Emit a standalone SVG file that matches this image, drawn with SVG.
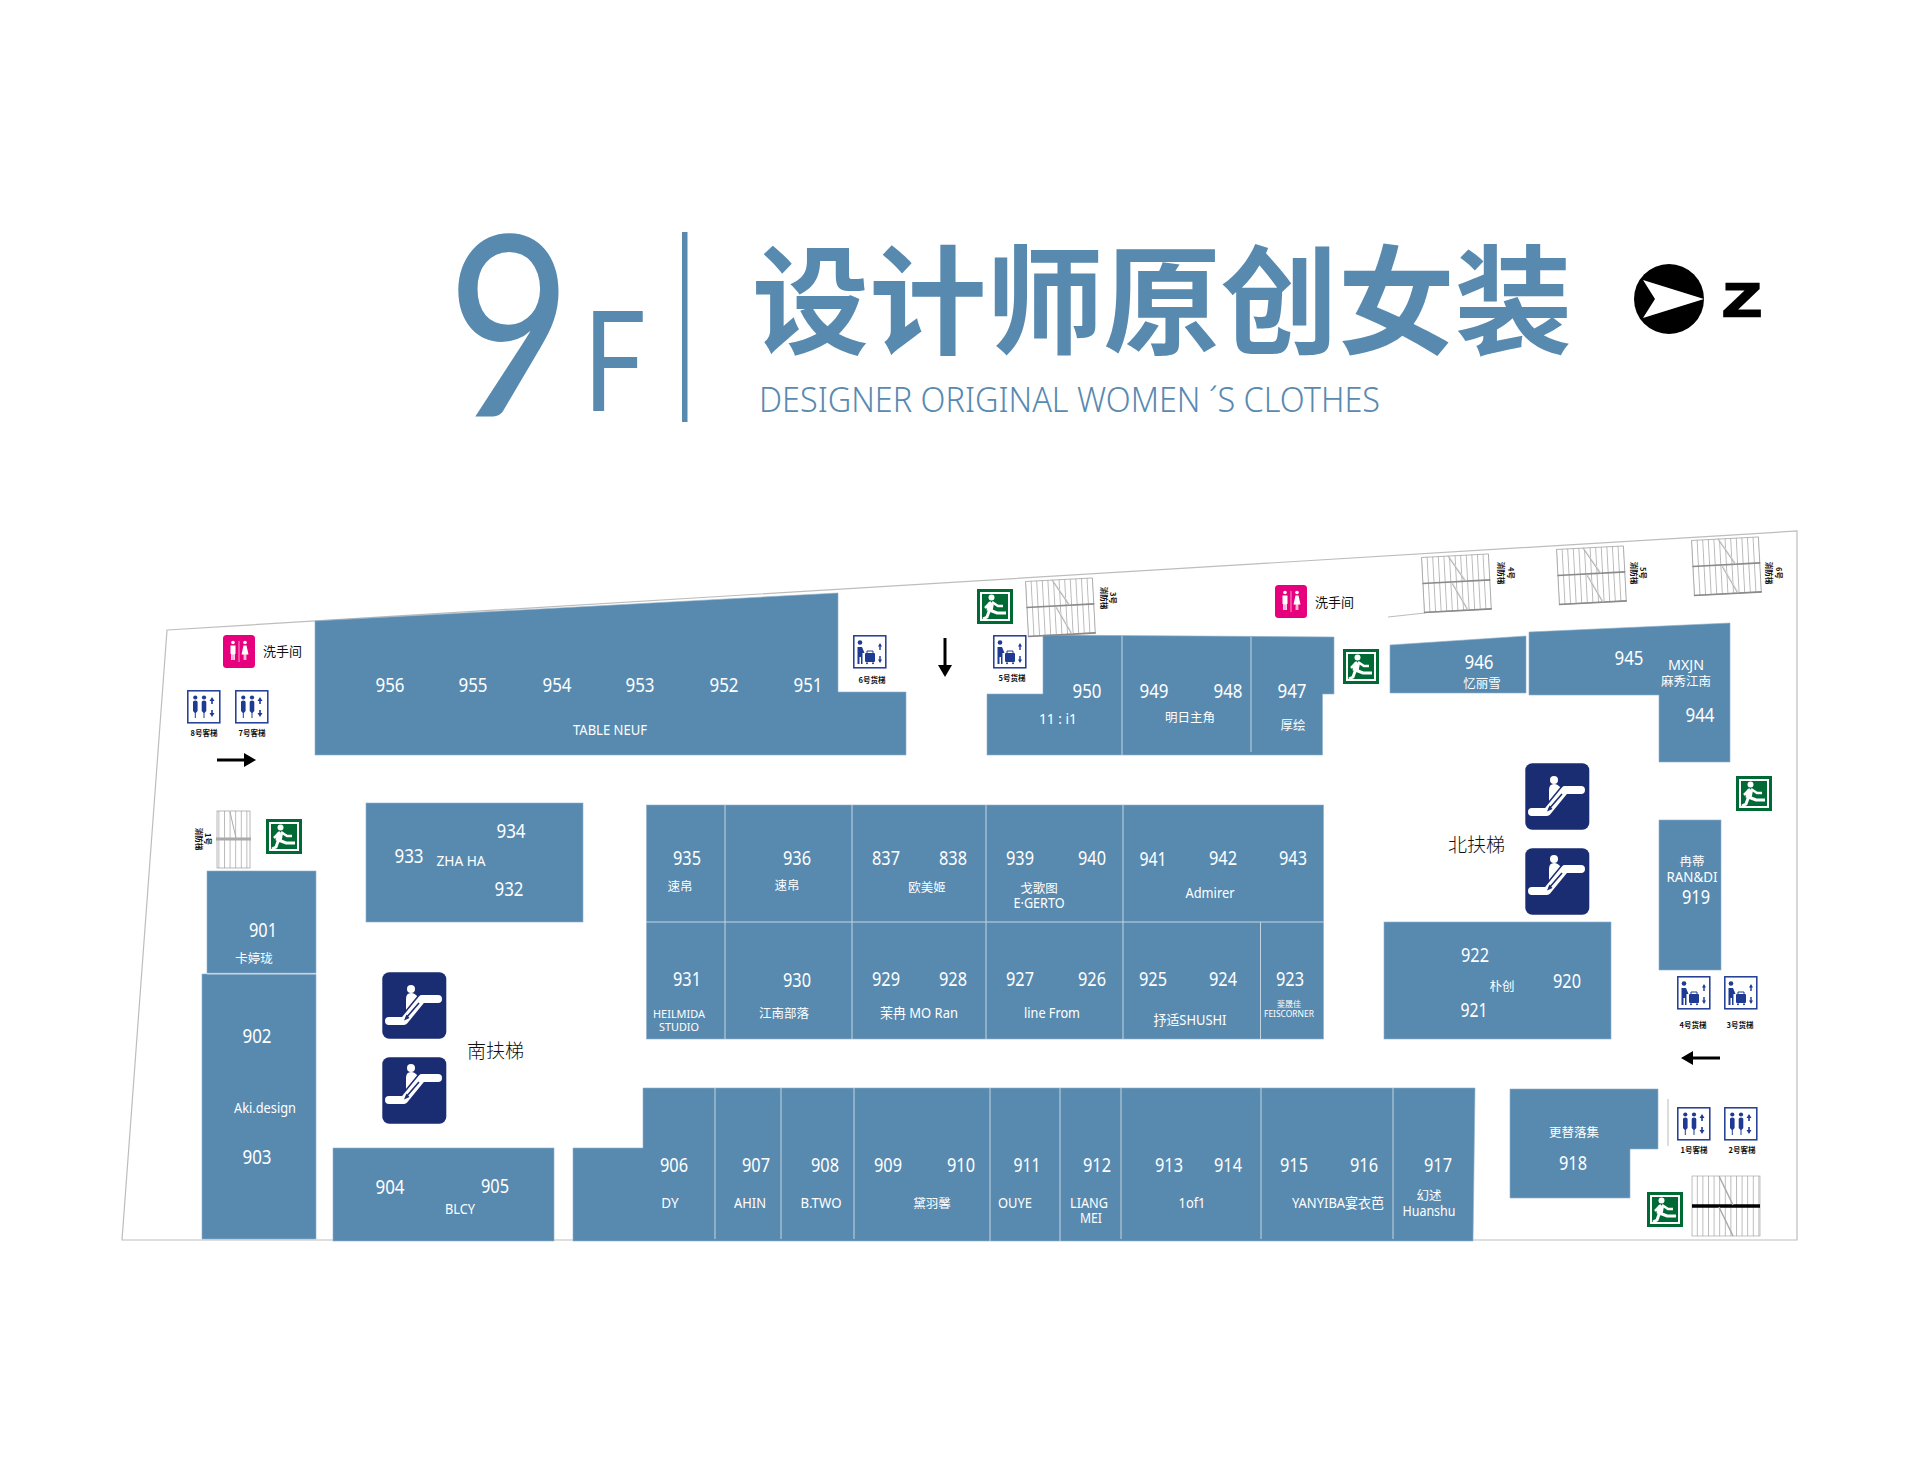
<svg xmlns="http://www.w3.org/2000/svg" width="1929" height="1475" viewBox="0 0 1929 1475">
<style>
text{font-family:"Noto Sans","Noto Sans CJK SC",sans-serif}
.b{fill:#588ab0;stroke:#8fb0c9;stroke-width:.6}
.d{stroke:#c3d4e1;stroke-width:1;fill:none}
.n{fill:#fff;font-size:20px;text-anchor:middle}
.l{fill:#fff;font-size:13.5px;text-anchor:middle}
.c{fill:#fff;font-family:"Noto Sans CJK SC",sans-serif;font-size:12.5px;text-anchor:middle}
.k{fill:#111;font-family:"Noto Sans CJK SC",sans-serif;font-size:7.5px;font-weight:700;text-anchor:middle}
.w{fill:#111;font-family:"Noto Sans CJK SC",sans-serif;font-size:13px}
.e{fill:#111;font-family:"Noto Sans CJK SC",sans-serif;font-size:19px;font-weight:300}
.h{fill:#588ab0}
</style>
<defs>
<pattern id="hatch" width="5.6" height="10" patternUnits="userSpaceOnUse"><path d="M.5 0V10" stroke="#9a9a9a" stroke-width=".7"/></pattern>
<symbol id="stair" width="68" height="58" viewBox="0 0 68 58" overflow="visible"><rect x=".5" y=".5" width="67" height="55" fill="url(#hatch)" stroke="#999" stroke-width=".7"/><path d="M0 26.5H68" stroke="#8a8a8a" stroke-width="1.6"/><path d="M0 55.5H68" stroke="#8a8a8a" stroke-width="1.6"/><path d="M27 0L43 26M30 28L44 55" stroke="#aaa" stroke-width="1.5" fill="none"/><path d="M27.500 0L43.500 26M30.500 28L44.500 55" stroke="#fff" stroke-width=".6" fill="none"/></symbol>
<symbol id="lift" width="34" height="34" viewBox="0 0 34 34"><rect x=".8" y=".8" width="32" height="32" fill="#fff" stroke="#1f3a93" stroke-width="1.5"/><g fill="#1f3a93"><circle cx="8.300" cy="7.500" r="2.100"/><circle cx="17" cy="7.500" r="2.100"/><path d="M6 12Q6 10.500 8.300 10.500T10.600 12V21L8.800 23V28H7.800V23L6 21Z"/><path d="M14.700 12Q14.700 10.500 17 10.500T19.300 12V21L17.500 23V28H16.500V23L14.700 21Z"/><path d="M25 7L27.500 11H25.800V14H24.200V11H22.500Z"/><path d="M25 27L27.500 23H25.800V20H24.200V23H22.500Z"/></g></symbol>
<symbol id="cargo" width="34" height="34" viewBox="0 0 34 34"><rect x=".8" y=".8" width="32" height="32" fill="#fff" stroke="#1f3a93" stroke-width="1.5"/><g fill="#1f3a93"><circle cx="7" cy="7.500" r="2.300"/><path d="M4.500 12H9L11.500 18H9.500V29H8V22H6.500V29H4.500Z"/><rect x="12" y="18" width="10" height="9" rx="1"/><path d="M14 18V16H20V18" fill="none" stroke="#1f3a93"/><circle cx="14" cy="28.300" r="1"/><circle cx="20" cy="28.300" r="1"/><path d="M27 8L29 11.500H27.700V15H26.300V11.500H25Z"/><path d="M27 28L29 24.500H27.700V21H26.300V24.500H25Z"/></g></symbol>
<symbol id="exit" width="36" height="35" viewBox="0 0 36 35"><rect width="36" height="35" fill="#006a35"/><rect x="4" y="4" width="28" height="27" fill="none" stroke="#fff" stroke-width="2"/><circle cx="14.500" cy="8.500" r="3" fill="#fff"/><path d="M14 14L12.500 22" stroke="#fff" stroke-width="6"/><path d="M14 13L8 19M15 13L21 17H26" fill="none" stroke="#fff" stroke-width="2.500"/><path d="M12.500 21L20 24H29M12.500 21L10 28L6 30" fill="none" stroke="#fff" stroke-width="3"/></symbol>
<g id="escm"><circle cx="29" cy="11" r="4" fill="#fff"/><path d="M24 33V21Q24 15 29 15Q33 15 35.500 19Z" fill="#fff"/><path d="M7 43H22L40 21H56" fill="none" stroke="#1b2d72" stroke-width="11" stroke-linecap="round" stroke-linejoin="round"/><path d="M7 43H22L40 21H56" fill="none" stroke="#fff" stroke-width="8" stroke-linecap="round" stroke-linejoin="round"/><path d="M24 40L37 25" stroke="#1b2d72" stroke-width="1.600"/><path d="M22 42.500L27.500 40L24.500 36.500Z" fill="#1b2d72"/></g>
<symbol id="esc" width="65" height="67" viewBox="0 0 65 67"><rect x=".3" y=".3" width="64" height="66.400" rx="7" fill="#1b2d72"/><use href="#escm"/></symbol>
<symbol id="esc2" width="65" height="67" viewBox="0 0 65 67"><rect x=".3" y=".3" width="64" height="66.400" rx="7" fill="#1b2d72"/><use href="#escm" y="6"/></symbol>
<symbol id="wc" width="32" height="33" viewBox="0 0 32 33"><rect width="32" height="33" rx="3.500" fill="#e6007e"/><path d="M16 6V27" stroke="#fff" stroke-width=".6"/><g fill="#fff"><circle cx="10" cy="7.500" r="1.800"/><path d="M7.500 10.500H12.500V19H11.800V25H10.300V19.500H9.700V25H8.200V19H7.500Z"/><circle cx="22" cy="7.500" r="1.800"/><path d="M20.500 10.500H23.500L25.500 19.500H23.300V25H22.300V19.500H21.700V25H20.700V19.500H18.500Z"/></g></symbol>
</defs>

<g id="title">
<text class="h" transform="translate(447 416) scale(.855 1)" style="font-family:Lato,sans-serif;font-size:252px;font-weight:400">9</text>
<text class="h" transform="translate(583 411) scale(.8 1)" style="font-family:Lato,sans-serif;font-size:140px;font-weight:400">F</text>
<rect class="h" x="682" y="232" width="5.500" height="190"/>
<text class="h" x="752" y="345" textLength="820" lengthAdjust="spacingAndGlyphs" style="font-family:'Noto Sans CJK SC',sans-serif;font-size:118px;font-weight:700">设计师原创女装</text>
<text class="h" x="759" y="412" textLength="621" lengthAdjust="spacingAndGlyphs" style="font-family:'Noto Sans',sans-serif;font-size:35px;font-weight:300">DESIGNER ORIGINAL WOMEN ´S CLOTHES</text>
</g>
<g id="compass">
<circle cx="1669" cy="299" r="35" fill="#000"/>
<path d="M1643 280L1704 299L1643 318L1655 299Z" fill="#fff"/>
<text x="1742" y="316" textLength="38" lengthAdjust="spacingAndGlyphs" text-anchor="middle" stroke="#000" stroke-width="2.500" style="font-family:'Liberation Sans',sans-serif;font-size:46px;font-weight:700">Z</text>
</g>

<g id="outline"><path d="M167 630L1797 531V1240H122Z" fill="#fff" stroke="#bdbdbd" stroke-width="1.200"/><path d="M1388 617L1425 613M1668 1099V1146" stroke="#aaa" stroke-width=".8" fill="none"/></g>

<g id="block-951-956" ><path class="b" d="M315 621L838 593V692H906V755H315Z"/>
<text class="n" x="390" y="692" textLength="29" lengthAdjust="spacingAndGlyphs">956</text><text class="n" x="473" y="692" textLength="29" lengthAdjust="spacingAndGlyphs">955</text><text class="n" x="557" y="692" textLength="29" lengthAdjust="spacingAndGlyphs">954</text><text class="n" x="640" y="692" textLength="29" lengthAdjust="spacingAndGlyphs">953</text><text class="n" x="724" y="692" textLength="29" lengthAdjust="spacingAndGlyphs">952</text><text class="n" x="808" y="692" textLength="29" lengthAdjust="spacingAndGlyphs">951</text>
<text class="l" x="610" y="735" textLength="74" lengthAdjust="spacingAndGlyphs">TABLE NEUF</text></g>

<g id="block-947-950"><path class="b" d="M987 694H1043V635L1334 637V694H1322.500V755H987Z"/><path class="d" d="M1122 636V755M1251 637V752"/>
<text class="n" x="1087" y="698" textLength="29" lengthAdjust="spacingAndGlyphs">950</text><text class="n" x="1154" y="698" textLength="29" lengthAdjust="spacingAndGlyphs">949</text><text class="n" x="1228" y="698" textLength="29" lengthAdjust="spacingAndGlyphs">948</text><text class="n" x="1292" y="698" textLength="29" lengthAdjust="spacingAndGlyphs">947</text>
<text class="l" x="1058" y="724" textLength="38" lengthAdjust="spacingAndGlyphs">11 : i1</text><text class="c" x="1190" y="722">明日主角</text><text class="c" x="1293" y="730">厚绘</text></g>

<g id="block-946"><path class="b" d="M1390 645L1526 636V693H1390Z"/><text class="n" x="1479" y="669" textLength="29" lengthAdjust="spacingAndGlyphs">946</text><text class="c" x="1482" y="688">忆丽雪</text></g>
<g id="block-944-945"><path class="b" d="M1529 632L1730 623V762H1659V695H1529Z"/><text class="n" x="1629" y="665" textLength="29" lengthAdjust="spacingAndGlyphs">945</text><text class="l" x="1686" y="670" textLength="36" lengthAdjust="spacingAndGlyphs">MXJN</text><text class="c" x="1686" y="686">麻秀江南</text><text class="n" x="1700" y="722" textLength="29" lengthAdjust="spacingAndGlyphs">944</text></g>

<g id="block-932-934"><rect class="b" x="366" y="803" width="217" height="119"/><text class="n" x="511" y="838" textLength="29" lengthAdjust="spacingAndGlyphs">934</text><text class="n" x="409" y="863" textLength="29" lengthAdjust="spacingAndGlyphs">933</text><text class="n" x="509" y="896" textLength="29" lengthAdjust="spacingAndGlyphs">932</text><text class="l" x="461" y="866" textLength="49" lengthAdjust="spacingAndGlyphs">ZHA HA</text></g>

<g id="block-901"><rect class="b" x="207" y="871" width="109" height="102"/><text class="n" x="263" y="937" textLength="28" lengthAdjust="spacingAndGlyphs">901</text><text class="c" x="254" y="963">卡婷珑</text></g>
<g id="block-902-903"><path class="b" d="M202 974H316V1239H202Z"/><path class="d" d="M207 974H316"/><text class="n" x="257" y="1043" textLength="29" lengthAdjust="spacingAndGlyphs">902</text><text class="l" x="265" y="1113" textLength="62" lengthAdjust="spacingAndGlyphs">Aki.design</text><text class="n" x="257" y="1164" textLength="29" lengthAdjust="spacingAndGlyphs">903</text></g>
<g id="block-904-905"><rect class="b" x="333" y="1148" width="221" height="93"/><text class="n" x="390" y="1194" textLength="29" lengthAdjust="spacingAndGlyphs">904</text><text class="n" x="495" y="1193" textLength="28" lengthAdjust="spacingAndGlyphs">905</text><text class="l" x="460" y="1214" textLength="30" lengthAdjust="spacingAndGlyphs">BLCY</text></g>

<g id="block-923-943"><rect class="b" x="646.500" y="805" width="677" height="234"/><path class="d" d="M646 922H1323.500M725 805V1039M852 805V1039M986 805V1039M1123 805V1039M1260.500 922V1039"/>
<text class="n" x="687" y="865" textLength="28" lengthAdjust="spacingAndGlyphs">935</text><text class="n" x="797" y="865" textLength="28" lengthAdjust="spacingAndGlyphs">936</text><text class="n" x="886" y="865" textLength="28" lengthAdjust="spacingAndGlyphs">837</text><text class="n" x="953" y="865" textLength="28" lengthAdjust="spacingAndGlyphs">838</text><text class="n" x="1020" y="865" textLength="28" lengthAdjust="spacingAndGlyphs">939</text><text class="n" x="1092" y="865" textLength="28" lengthAdjust="spacingAndGlyphs">940</text><text class="n" x="1153" y="866" textLength="27" lengthAdjust="spacingAndGlyphs">941</text><text class="n" x="1223" y="865" textLength="28" lengthAdjust="spacingAndGlyphs">942</text><text class="n" x="1293" y="865" textLength="28" lengthAdjust="spacingAndGlyphs">943</text>
<text class="c" x="680" y="891">速帛</text><text class="c" x="787" y="890">速帛</text><text class="c" x="927" y="892">欧美姬</text><text class="c" x="1039" y="893">戈歌图</text><text class="l" x="1039" y="908" textLength="51" lengthAdjust="spacingAndGlyphs">E·GERTO</text><text class="l" x="1210" y="898" textLength="49" lengthAdjust="spacingAndGlyphs">Admirer</text>
<text class="n" x="687" y="986" textLength="28" lengthAdjust="spacingAndGlyphs">931</text><text class="n" x="797" y="987" textLength="28" lengthAdjust="spacingAndGlyphs">930</text><text class="n" x="886" y="986" textLength="28" lengthAdjust="spacingAndGlyphs">929</text><text class="n" x="953" y="986" textLength="28" lengthAdjust="spacingAndGlyphs">928</text><text class="n" x="1020" y="986" textLength="28" lengthAdjust="spacingAndGlyphs">927</text><text class="n" x="1092" y="986" textLength="28" lengthAdjust="spacingAndGlyphs">926</text><text class="n" x="1153" y="986" textLength="28" lengthAdjust="spacingAndGlyphs">925</text><text class="n" x="1223" y="986" textLength="28" lengthAdjust="spacingAndGlyphs">924</text><text class="n" x="1290" y="986" textLength="28" lengthAdjust="spacingAndGlyphs">923</text>
<text class="l" x="679" y="1018" style="font-size:11px" textLength="52" lengthAdjust="spacingAndGlyphs">HEILMIDA</text><text class="l" x="679" y="1031" style="font-size:11px" textLength="40" lengthAdjust="spacingAndGlyphs">STUDIO</text><text class="c" x="784" y="1018">江南部落</text><text class="l" x="919" y="1018" textLength="78" lengthAdjust="spacingAndGlyphs">茉冉 MO Ran</text><text class="l" x="1052" y="1018" textLength="56" lengthAdjust="spacingAndGlyphs">line From</text><text class="l" x="1190" y="1025" textLength="73" lengthAdjust="spacingAndGlyphs">抒适SHUSHI</text><text class="c" x="1289" y="1007" style="font-size:8px">斐晟佳</text><text class="l" x="1289" y="1017" style="font-size:8px" textLength="50" lengthAdjust="spacingAndGlyphs">FEISCORNER</text></g>

<g id="block-920-922"><rect class="b" x="1384" y="922" width="227" height="117"/><text class="n" x="1475" y="962" textLength="28" lengthAdjust="spacingAndGlyphs">922</text><text class="n" x="1474" y="1017" textLength="27" lengthAdjust="spacingAndGlyphs">921</text><text class="n" x="1567" y="988" textLength="28" lengthAdjust="spacingAndGlyphs">920</text><text class="c" x="1502" y="991">朴创</text></g>
<g id="block-919"><rect class="b" x="1659" y="820" width="62" height="150"/><text class="c" x="1692" y="866">冉蒂</text><text class="l" x="1692" y="882" textLength="51" lengthAdjust="spacingAndGlyphs">RAN&amp;DI</text><text class="n" x="1696" y="904" textLength="28" lengthAdjust="spacingAndGlyphs">919</text></g>
<g id="block-918"><path class="b" d="M1510 1089H1658V1149H1630V1198H1510Z"/><text class="c" x="1574" y="1137">更替落集</text><text class="n" x="1573" y="1170" textLength="28" lengthAdjust="spacingAndGlyphs">918</text></g>

<g id="block-906-917"><path class="b" d="M573 1148H643V1088H1475L1473 1241H573Z"/><path class="d" d="M715 1088V1239M781 1088V1239M854 1088V1239M990 1088V1241M1060 1088V1241M1121 1088V1239M1261 1088V1239M1393 1088V1239"/>
<text class="n" x="674" y="1172" textLength="28" lengthAdjust="spacingAndGlyphs">906</text><text class="n" x="756" y="1172" textLength="28" lengthAdjust="spacingAndGlyphs">907</text><text class="n" x="825" y="1172" textLength="28" lengthAdjust="spacingAndGlyphs">908</text><text class="n" x="888" y="1172" textLength="28" lengthAdjust="spacingAndGlyphs">909</text><text class="n" x="961" y="1172" textLength="28" lengthAdjust="spacingAndGlyphs">910</text><text class="n" x="1027" y="1172" textLength="27" lengthAdjust="spacingAndGlyphs">911</text><text class="n" x="1097" y="1172" textLength="28" lengthAdjust="spacingAndGlyphs">912</text><text class="n" x="1169" y="1172" textLength="28" lengthAdjust="spacingAndGlyphs">913</text><text class="n" x="1228" y="1172" textLength="28" lengthAdjust="spacingAndGlyphs">914</text><text class="n" x="1294" y="1172" textLength="28" lengthAdjust="spacingAndGlyphs">915</text><text class="n" x="1364" y="1172" textLength="28" lengthAdjust="spacingAndGlyphs">916</text><text class="n" x="1438" y="1172" textLength="28" lengthAdjust="spacingAndGlyphs">917</text>
<text class="l" x="670" y="1208">DY</text><text class="l" x="750" y="1208" textLength="32" lengthAdjust="spacingAndGlyphs">AHIN</text><text class="l" x="821" y="1208" textLength="41" lengthAdjust="spacingAndGlyphs">B.TWO</text><text class="c" x="932" y="1208">黛羽馨</text><text class="l" x="1015" y="1208" textLength="34" lengthAdjust="spacingAndGlyphs">OUYE</text><text class="l" x="1089" y="1208" textLength="38" lengthAdjust="spacingAndGlyphs">LIANG</text><text class="l" x="1091" y="1223" textLength="22" lengthAdjust="spacingAndGlyphs">MEI</text><text class="l" x="1192" y="1208" textLength="27" lengthAdjust="spacingAndGlyphs">1of1</text><text class="l" x="1338" y="1208" textLength="92" lengthAdjust="spacingAndGlyphs">YANYIBA宴衣芭</text><text class="c" x="1429" y="1200">幻述</text><text class="l" x="1429" y="1216" textLength="53" lengthAdjust="spacingAndGlyphs">Huanshu</text></g>

<g id="escalator-south"><use href="#esc2" x="382" y="972"/><use href="#esc" x="382" y="1057"/><text class="e" x="467" y="1058">南扶梯</text></g>
<g id="escalator-north"><use href="#esc2" x="1525" y="763"/><use href="#esc" x="1525" y="848"/><text class="e" x="1448" y="852">北扶梯</text></g>

<g id="wc-1"><use href="#wc" x="223" y="635"/><text class="w" x="263" y="656">洗手间</text></g>
<g id="wc-2"><use href="#wc" x="1275" y="585"/><text class="w" x="1315" y="607">洗手间</text></g>

<g id="lift-8"><use href="#lift" x="187" y="690"/><text class="k" x="204" y="736">8号客梯</text></g>
<g id="lift-7"><use href="#lift" x="235" y="690"/><text class="k" x="252" y="736">7号客梯</text></g>
<g id="lift-1"><use href="#lift" x="1677" y="1107"/><text class="k" x="1694" y="1153">1号客梯</text></g>
<g id="lift-2"><use href="#lift" x="1724" y="1107"/><text class="k" x="1742" y="1153">2号客梯</text></g>
<g id="cargo-6"><use href="#cargo" x="853" y="635"/><text class="k" x="872" y="683">6号货梯</text></g>
<g id="cargo-5"><use href="#cargo" x="993" y="635"/><text class="k" x="1012" y="681">5号货梯</text></g>
<g id="cargo-4"><use href="#cargo" x="1677" y="976"/><text class="k" x="1693" y="1028">4号货梯</text></g>
<g id="cargo-3"><use href="#cargo" x="1724" y="976"/><text class="k" x="1740" y="1028">3号货梯</text></g>

<g id="exit-1"><use href="#exit" x="266" y="819"/></g>
<g id="exit-2"><use href="#exit" x="977" y="589"/></g>
<g id="exit-3"><use href="#exit" x="1343" y="649"/></g>
<g id="exit-4"><use href="#exit" x="1736" y="776"/></g>
<g id="exit-5"><use href="#exit" x="1647" y="1192"/></g>

<g id="stair-1"><rect x="217" y="811" width="33" height="57" fill="url(#hatch)" stroke="#999" stroke-width=".7"/><path d="M216 839H251" stroke="#aaa" stroke-width="3"/><path d="M230 812L236 838" stroke="#aaa" stroke-width="1"/><text class="k" transform="translate(207 839) rotate(90)" dy="2.500">1号</text><text class="k" transform="translate(198 839) rotate(90)" dy="2.500">消防梯</text></g>
<g id="stair-3"><use href="#stair" transform="translate(1025 581) rotate(-3)"/><text class="k" transform="translate(1112 598) rotate(90)" dy="2.500">3号</text><text class="k" transform="translate(1103 598) rotate(90)" dy="2.500">消防梯</text></g>
<g id="stair-4"><use href="#stair" transform="translate(1421 557) rotate(-3)"/><text class="k" transform="translate(1510 573) rotate(90)" dy="2.500">4号</text><text class="k" transform="translate(1500 573) rotate(90)" dy="2.500">消防梯</text></g>
<g id="stair-5"><use href="#stair" transform="translate(1556 549) rotate(-3)"/><text class="k" transform="translate(1642 573) rotate(90)" dy="2.500">5号</text><text class="k" transform="translate(1633 573) rotate(90)" dy="2.500">消防梯</text></g>
<g id="stair-6"><use href="#stair" transform="translate(1691 540) rotate(-3)"/><text class="k" transform="translate(1778 573) rotate(90)" dy="2.500">6号</text><text class="k" transform="translate(1768 573) rotate(90)" dy="2.500">消防梯</text></g>
<g id="stair-2"><rect x="1692" y="1176" width="68" height="60" fill="url(#hatch)" stroke="#aaa" stroke-width=".7"/><path d="M1692 1206H1760" stroke="#000" stroke-width="3.500"/><path d="M1719 1176L1733 1205M1719 1207L1733 1236" stroke="#aaa" stroke-width="1.500"/></g>

<g id="connectors">
<path d="M217 760H245" stroke="#000" stroke-width="3"/><path d="M244 753L256 760L244 767Z"/>
<path d="M945 638V666" stroke="#000" stroke-width="3"/><path d="M938 665L945 677L952 665Z"/>
<path d="M1692 1058H1720" stroke="#000" stroke-width="3"/><path d="M1693 1051L1681 1058L1693 1065Z"/>
</g>
</svg>
